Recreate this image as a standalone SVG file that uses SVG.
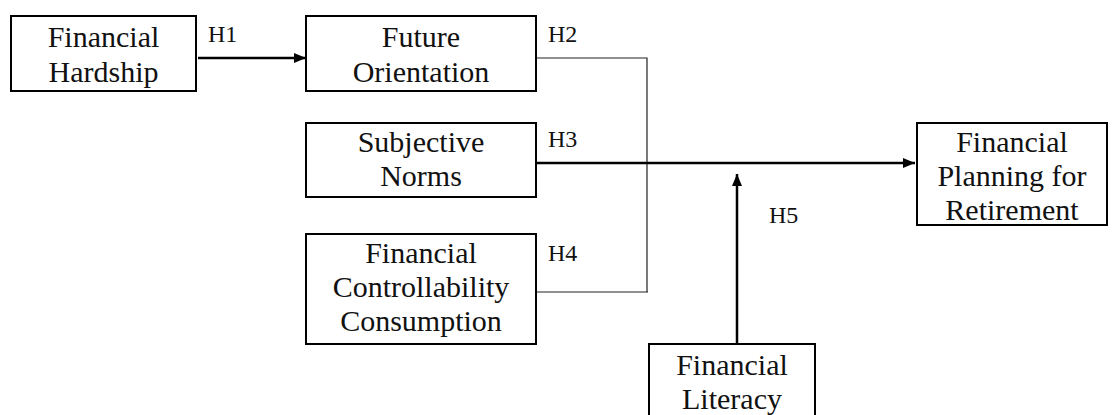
<svg xmlns="http://www.w3.org/2000/svg" width="1117" height="415" viewBox="0 0 1117 415">
<style>
.box{fill:#fff;stroke:#000;stroke-width:2}
.t{font-family:"Liberation Serif","Times New Roman",serif;font-size:30px;fill:#111;text-anchor:middle}
.h{font-family:"Liberation Serif","Times New Roman",serif;font-size:24px;fill:#111}
.thin{fill:none;stroke:#222;stroke-width:1.2}
.thick{fill:none;stroke:#000;stroke-width:2.5}
</style>
<defs>
<marker id="ah" viewBox="0 0 12 10" refX="12" refY="5" markerWidth="12" markerHeight="10" markerUnits="userSpaceOnUse" orient="auto">
<path d="M0,0 L12,5 L0,10 Z" fill="#000"/>
</marker>
</defs>
<rect width="1117" height="415" fill="#fff"/>
<g id="connectors">
<line class="thick" x1="198" y1="58" x2="306" y2="58" marker-end="url(#ah)"/>
<polyline class="thin" points="536,58 647,58 647,292"/>
<line class="thin" x1="533" y1="292" x2="648" y2="292"/>
<line class="thick" x1="536" y1="163" x2="915" y2="163" stroke-width="2" marker-end="url(#ah)"/>
<line class="thick" x1="737" y1="343" x2="737" y2="174" stroke-width="2" marker-end="url(#ah)"/>
<text class="h" x="208" y="42">H1</text>
<text class="h" x="548" y="42">H2</text>
<text class="h" x="548" y="147">H3</text>
<text class="h" x="548" y="261">H4</text>
<text class="h" x="769" y="223">H5</text>
</g>
<g id="financial-hardship">
<rect class="box" x="11" y="16" width="185" height="75"/>
<text class="t" x="103.5" y="47">Financial</text>
<text class="t" x="103.5" y="82">Hardship</text>
</g>
<g id="future-orientation">
<rect class="box" x="306" y="16" width="230" height="75"/>
<text class="t" x="421" y="47">Future</text>
<text class="t" x="421" y="82">Orientation</text>
</g>
<g id="subjective-norms">
<rect class="box" x="306" y="123" width="230" height="74"/>
<text class="t" x="421" y="152">Subjective</text>
<text class="t" x="421" y="186">Norms</text>
</g>
<g id="financial-controllability-consumption">
<rect class="box" x="306" y="234" width="230" height="110"/>
<text class="t" x="421" y="263">Financial</text>
<text class="t" x="421" y="297">Controllability</text>
<text class="t" x="421" y="331">Consumption</text>
</g>
<g id="financial-planning-for-retirement">
<rect class="box" x="917" y="123" width="190" height="102"/>
<text class="t" x="1012" y="152">Financial</text>
<text class="t" x="1012" y="186">Planning for</text>
<text class="t" x="1012" y="220">Retirement</text>
</g>
<g id="financial-literacy">
<rect class="box" x="649" y="344" width="166" height="90"/>
<text class="t" x="732" y="375">Financial</text>
<text class="t" x="732" y="409">Literacy</text>
</g>
</svg>
